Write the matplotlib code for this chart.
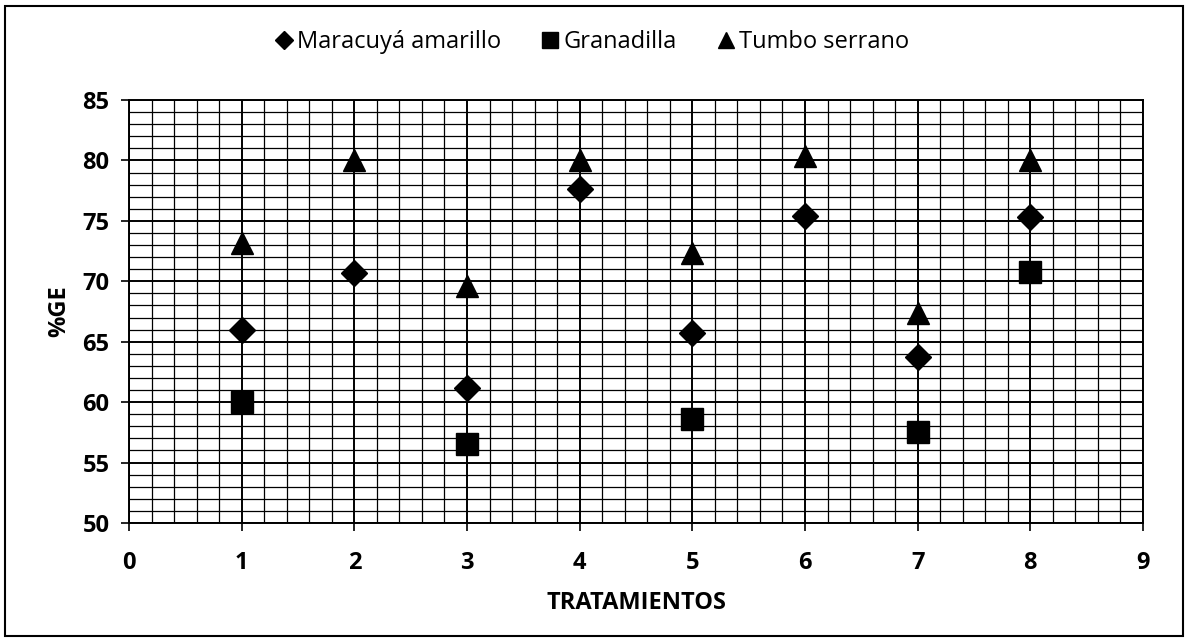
import matplotlib.pyplot as plt
from matplotlib.ticker import MultipleLocator
from matplotlib.patches import Rectangle

tratamientos = [1, 2, 3, 4, 5, 6, 7, 8]
maracuya = [66.0, 70.7, 61.2, 77.6, 65.7, 75.4, 63.7, 75.3]
granadilla = [60.0, None, 56.5, None, 58.6, None, 57.5, 70.8]
tumbo = [73.2, 80.0, 69.6, 80.0, 72.3, 80.4, 67.4, 80.0]

plt.rcParams['font.family'] = ['Open Sans', 'DejaVu Sans']

fig = plt.figure(figsize=(11.88, 6.41), dpi=100)
ax = fig.add_axes([129 / 1188, 1 - 523 / 641, (1143 - 129) / 1188, (523 - 100) / 641])

gx = [x for x, v in zip(tratamientos, granadilla) if v is not None]
gy = [v for v in granadilla if v is not None]

ax.plot(tratamientos, maracuya, 'D', color='black', ms=13, ls='none',
        label='Maracuyá amarillo', zorder=5)
ax.plot(gx, gy, 's', color='black', ms=16, ls='none', label='Granadilla', zorder=5)
ax.plot(tratamientos, tumbo, '^', color='black', ms=16, ls='none',
        label='Tumbo serrano', zorder=5)

ax.set_xlim(0, 9)
ax.set_ylim(50, 85)
ax.xaxis.set_major_locator(MultipleLocator(1))
ax.xaxis.set_minor_locator(MultipleLocator(0.2))
ax.yaxis.set_major_locator(MultipleLocator(5))
ax.yaxis.set_minor_locator(MultipleLocator(1))

ax.grid(which='major', color='black', lw=1.4)
ax.grid(which='minor', color='black', lw=0.9)
ax.set_axisbelow(True)
for s in ax.spines.values():
    s.set_linewidth(1.4)

ax.tick_params(which='major', direction='out', length=6, width=1.2,
               labelsize=17, pad=8)
ax.tick_params(axis='x', which='major', pad=14)
ax.tick_params(which='minor', length=0)
for lbl in ax.get_xticklabels() + ax.get_yticklabels():
    lbl.set_fontweight('bold')

ax.set_xlabel('TRATAMIENTOS', fontsize=17, fontweight='bold', labelpad=12)
ax.set_ylabel('%GE', fontsize=17, fontweight='bold', labelpad=8)

leg = fig.legend(loc='center', bbox_to_anchor=(0.497, 1 - 42 / 641), ncol=3,
                 frameon=False, fontsize=17, handletextpad=0.05,
                 columnspacing=1.6, markerscale=0.7, handlelength=1.0)

# outer frame around the whole chart
fig.patches.append(Rectangle((5 / 1188, 5 / 641), 1178 / 1188, 630 / 641,
                             transform=fig.transFigure, fill=False,
                             edgecolor='black', lw=1.5))

fig.savefig('out.png', dpi=100)
